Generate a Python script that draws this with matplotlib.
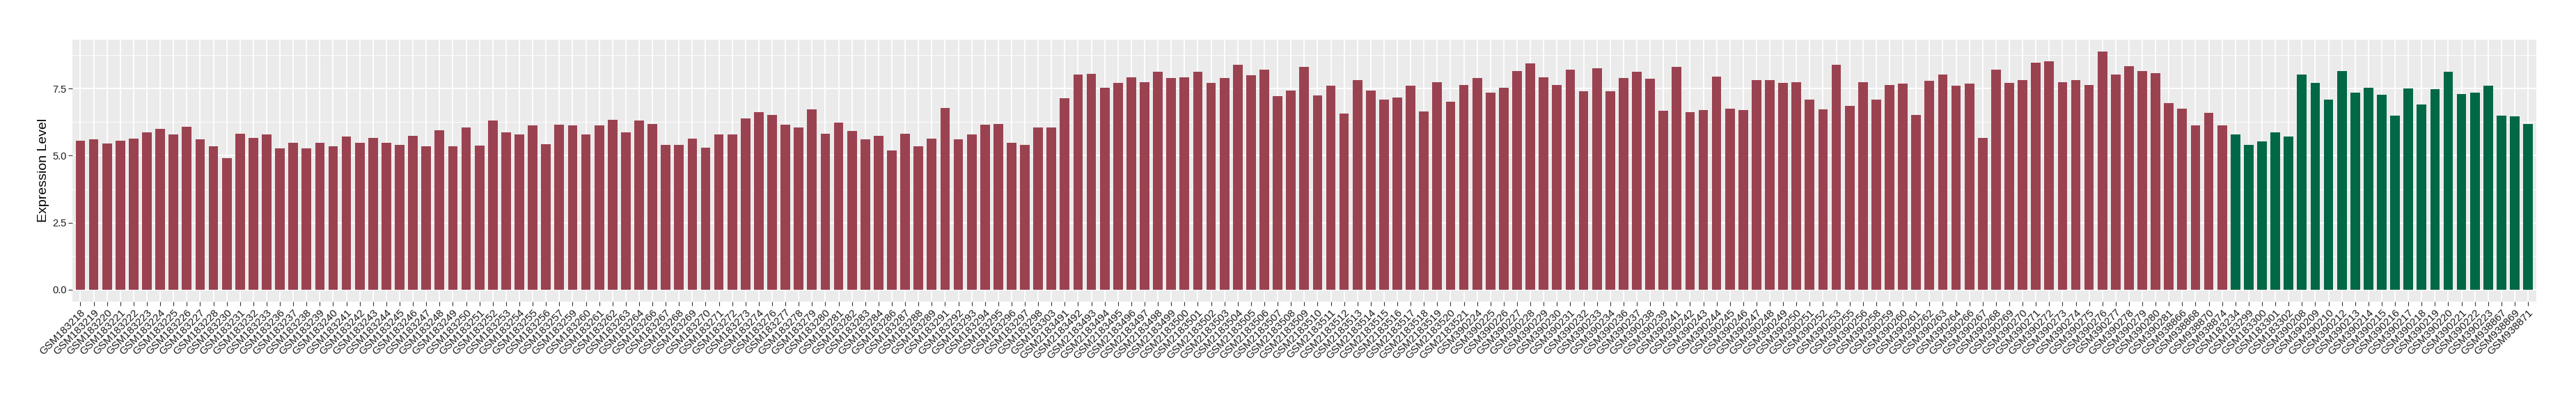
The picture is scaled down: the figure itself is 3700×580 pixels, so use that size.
""" Bar chart of expression level per sample, two groups """
from matplotlib import pyplot as plt
from matplotlib.ticker import MultipleLocator
import numpy as np

COLOR_GROUP_A = "#9B4251"
COLOR_GROUP_B = "#006846"
PANEL_BG = "#EBEBEB"

plt.rcParams["font.family"] = ["Liberation Sans", "DejaVu Sans"]

# sample ids, group A (red)
ids_a_183 = ([f"GSM183{n}" for n in range(218, 229)] + [f"GSM183{n}" for n in range(230, 234)]
             + [f"GSM183{n}" for n in range(236, 258)] + [f"GSM183{n}" for n in range(259, 265)]
             + [f"GSM183{n}" for n in range(266, 275)] + [f"GSM183{n}" for n in range(276, 285)]
             + [f"GSM183{n}" for n in range(286, 290)] + [f"GSM183{n}" for n in range(291, 299)]
             + ["GSM183303"])
ids_a_2183 = [f"GSM2183{n}" for n in range(491, 522)]
ids_a_390 = ([f"GSM390{n}" for n in range(224, 235)] + [f"GSM390{n}" for n in range(236, 240)]
             + [f"GSM390{n}" for n in range(241, 254)] + ["GSM390255", "GSM390256"]
             + [f"GSM390{n}" for n in range(258, 265)] + [f"GSM390{n}" for n in range(266, 282)])
ids_a_938 = ["GSM938866", "GSM938868", "GSM938870", "GSM938874"]

# sample ids, group B (green)
ids_b = (["GSM183234", "GSM183299", "GSM183300", "GSM183301", "GSM183302",
          "GSM390208", "GSM390209", "GSM390210"] + [f"GSM390{n}" for n in range(212, 224)]
         + ["GSM938867", "GSM938869", "GSM938871"])

values_a = [
    5.57, 5.62, 5.46, 5.57, 5.64, 5.86, 6.01, 5.80, 6.09, 5.60,
    5.36, 4.91, 5.83, 5.67, 5.80, 5.28, 5.49, 5.28, 5.49, 5.36,
    5.72, 5.49, 5.67, 5.49, 5.41, 5.75, 5.34, 5.95, 5.36, 6.04,
    5.38, 6.30, 5.88, 5.78, 6.13, 5.43, 6.16, 6.12, 5.78, 6.13,
    6.35, 5.86, 6.32, 6.19, 5.41, 5.41, 5.64, 5.31, 5.78, 5.80,
    6.39, 6.63, 6.53, 6.16, 6.06, 6.74, 5.83, 6.24, 5.93, 5.60,
    5.75, 5.20, 5.83, 5.36, 5.64, 6.79, 5.60, 5.80, 6.16, 6.19,
    5.49, 5.41, 6.06, 6.06, 7.15, 8.04, 8.06, 7.54, 7.72, 7.93,
    7.75, 8.14, 7.90, 7.93, 8.14, 7.72, 7.90, 8.38, 8.01, 8.22,
    7.23, 7.44, 8.32, 7.26, 7.60, 6.58, 7.83, 7.44, 7.10, 7.18,
    7.60, 6.65, 7.75, 7.02, 7.64, 7.90, 7.34, 7.54, 8.16, 8.45,
    7.93, 7.64, 8.22, 7.41, 8.27, 7.41, 7.90, 8.12, 7.88, 6.68,
    8.32, 6.63, 6.71, 7.96, 6.76, 6.71, 7.83, 7.83, 7.72, 7.75,
    7.08, 6.74, 8.38, 6.87, 7.75, 7.08, 7.64, 7.70, 6.53, 7.80,
    8.04, 7.60, 7.70, 5.67, 8.22, 7.72, 7.83, 8.48, 8.53, 7.75,
    7.83, 7.64, 8.89, 8.04, 8.35, 8.16, 8.09, 6.97, 6.76, 6.13,
    6.61, 6.12,
]
values_b = [
    5.78, 5.41, 5.54, 5.86, 5.72, 8.04, 7.72, 7.10, 8.16, 7.34,
    7.54, 7.28, 6.50, 7.52, 6.91, 7.49, 8.14, 7.31, 7.34, 7.62,
    6.50, 6.48, 6.19,
]


def draw_expression_bars() -> None:
    labels = ids_a_183 + ids_a_2183 + ids_a_390 + ids_a_938 + ids_b
    values = np.array(values_a + values_b)
    colors = [COLOR_GROUP_A] * len(values_a) + [COLOR_GROUP_B] * len(values_b)
    x = np.arange(len(labels))

    fig = plt.figure(figsize=(37, 5.8), dpi=100)
    ax = fig.add_axes([104 / 3700, 1 - 433 / 580, (3642.6 - 104) / 3700, (433 - 56.7) / 580])
    ax.set_facecolor(PANEL_BG)

    ax.bar(x, values, width=0.72, color=colors, zorder=3)

    top = values.max()
    ax.set_ylim(-0.05 * top, 1.05 * top)
    ax.set_xlim(-0.6, len(labels) - 1 + 0.6)

    ax.yaxis.set_major_locator(MultipleLocator(2.5))
    ax.yaxis.set_minor_locator(MultipleLocator(1.25))
    ax.set_yticks([0, 2.5, 5.0, 7.5])
    ax.set_yticklabels(["0.0", "2.5", "5.0", "7.5"], fontsize=10.5, color="#1a1a1a")
    ax.grid(which="major", axis="both", color="white", lw=1.3, zorder=0)
    ax.grid(which="minor", axis="y", color="white", lw=0.6, zorder=0)

    ax.set_xticks(x)
    ax.set_xticklabels(labels, rotation=45, ha="right", va="top", rotation_mode="anchor",
                       fontsize=11, color="#1a1a1a")
    ax.tick_params(axis="both", which="major", length=4, width=0.8, color="#333333", pad=2)
    ax.tick_params(axis="y", which="minor", length=0)

    for s in ax.spines.values():
        s.set_visible(False)

    ax.set_ylabel("Expression Level", fontsize=14, labelpad=3)

    fig.savefig("out.png", dpi=100, facecolor="white")


if __name__ == "__main__":
    draw_expression_bars()
